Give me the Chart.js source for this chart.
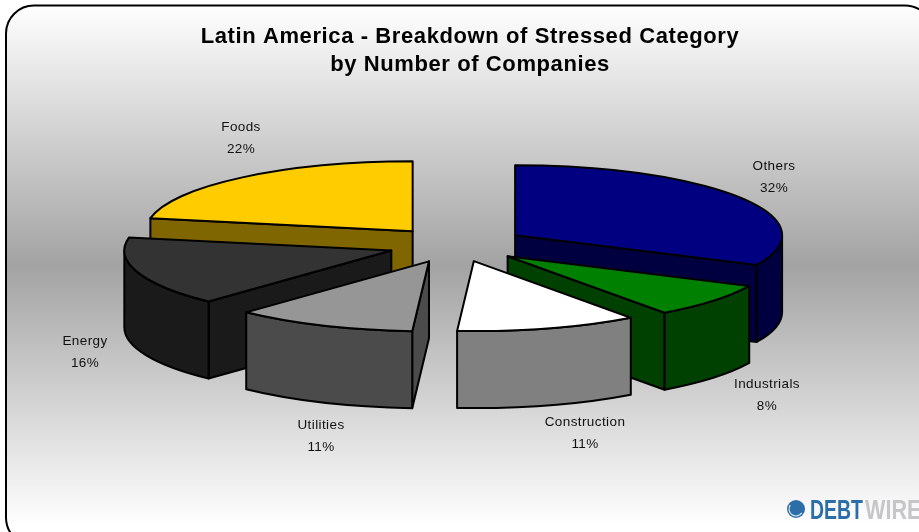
<!DOCTYPE html>
<html>
<head>
<meta charset="utf-8">
<style>html,body{margin:0;padding:0;background:#fff}canvas{display:block}</style>
<script src="https://cdn.jsdelivr.net/npm/chart.js@4"></script>
</head>
<body>
<canvas id="chart" width="919" height="532"></canvas>
<script>
// Sector data, clockwise from twelve o'clock
const categories = ['Others', 'Industrials', 'Construction', 'Utilities', 'Energy', 'Foods'];
const shares = [32, 8, 11, 11, 16, 22];
const topColors = ['#000080', '#008000', '#ffffff', '#969696', '#333333', '#ffcc00'];
const sideColors = ['#000040', '#004000', '#808080', '#4b4b4b', '#1a1a1a', '#806600'];
const titleLines = ['Latin America - Breakdown of Stressed Category', 'by Number of Companies'];

// Tilted-pie geometry
const pieCenter = { x: 456, y: 245 };
const pieRadius = 267;
const tilt = 0.262;
const depth = 77;
const explode = [70, 67, 64, 68, 68, 68];
const paintOrder = [5, 0, 4, 1, 3, 2];      // back to front
const labelCenters = [[774, 177.5], [767, 395.5], [585, 433.5], [321, 436.5], [85, 352.5], [241, 138]];

const LABEL_FONT = '13.5px "Liberation Sans", Arial, sans-serif';
const EDGE_WIDTH = 2;

function sliceApex(arc, i) {
  const mid = (arc.startAngle + arc.endAngle) / 2;
  return {
    x: pieCenter.x + Math.cos(mid) * explode[i],
    y: pieCenter.y + Math.sin(mid) * explode[i] * tilt
  };
}

function rimPoint(apex, angle) {
  return { x: apex.x + Math.cos(angle) * pieRadius, y: apex.y + Math.sin(angle) * pieRadius * tilt };
}

function paintPath(ctx, fill, build) {
  ctx.beginPath();
  build();
  ctx.closePath();
  ctx.fillStyle = fill;
  ctx.fill();
  ctx.strokeStyle = '#000';
  ctx.lineWidth = EDGE_WIDTH;
  ctx.lineJoin = 'round';
  ctx.stroke();
}

function cutFace(ctx, apex, angle, color) {
  const rim = rimPoint(apex, angle);
  paintPath(ctx, color, () => {
    ctx.moveTo(apex.x, apex.y);
    ctx.lineTo(rim.x, rim.y);
    ctx.lineTo(rim.x, rim.y + depth);
    ctx.lineTo(apex.x, apex.y + depth);
  });
}

const tiltedPie = {
  id: 'tiltedPie',
  beforeDraw(chart) {
    const { ctx, width, height } = chart;
    ctx.save();
    ctx.fillStyle = '#ffffff';
    ctx.fillRect(0, 0, width, height);
    const grad = ctx.createLinearGradient(0, 5, 0, 525);
    grad.addColorStop(0, '#ffffff');
    grad.addColorStop(0.5, '#a3a3a3');
    grad.addColorStop(1, '#ffffff');
    ctx.beginPath();
    ctx.roundRect(6, 5.5, width + 8, height + 8, 28);
    ctx.fillStyle = grad;
    ctx.fill();
    ctx.strokeStyle = '#000';
    ctx.lineWidth = 2;
    ctx.stroke();
    ctx.restore();
    ctx.letterSpacing = '0.6px';
  },
  beforeDatasetDraw(chart) {
    const { ctx } = chart;
    const arcs = chart.getDatasetMeta(0).data;
    ctx.letterSpacing = '0px';
    paintOrder.forEach(i => {
      const arc = arcs[i];
      const a0 = arc.startAngle, a1 = arc.endAngle;
      const apex = sliceApex(arc, i);
      const side = sideColors[i];

      // Cut faces that turn toward the viewer
      if (-Math.cos(a0) > 1e-6) cutFace(ctx, apex, a0, side);
      if (Math.cos(a1) > 1e-6) cutFace(ctx, apex, a1, side);

      // Curved outer wall on the near half of the rim
      const lo = Math.max(a0, 0), hi = Math.min(a1, Math.PI);
      if (lo < hi) {
        paintPath(ctx, side, () => {
          ctx.ellipse(apex.x, apex.y, pieRadius, pieRadius * tilt, 0, lo, hi);
          ctx.ellipse(apex.x, apex.y + depth, pieRadius, pieRadius * tilt, 0, hi, lo, true);
        });
      }

      // Top surface comes from the library's arc element, squashed into place
      ctx.save();
      ctx.translate(apex.x, apex.y);
      ctx.scale(1, tilt);
      ctx.translate(-arc.x, -arc.y);
      arc.draw(ctx);
      ctx.restore();

      ctx.beginPath();
      ctx.moveTo(apex.x, apex.y);
      ctx.ellipse(apex.x, apex.y, pieRadius, pieRadius * tilt, 0, a0, a1);
      ctx.closePath();
      ctx.strokeStyle = '#000';
      ctx.lineWidth = EDGE_WIDTH;
      ctx.lineJoin = 'round';
      ctx.stroke();
    });
    return false;
  },
  afterDatasetsDraw(chart) {
    const { ctx } = chart;
    ctx.save();
    // Category and share labels
    ctx.font = LABEL_FONT;
    ctx.letterSpacing = '0.4px';
    ctx.fillStyle = '#111111';
    ctx.textAlign = 'center';
    ctx.textBaseline = 'middle';
    categories.forEach((name, i) => {
      const [x, y] = labelCenters[i];
      ctx.fillText(name, x, y - 11);
      ctx.fillText(shares[i] + '%', x, y + 11);
    });
    ctx.restore();

    // Publisher mark in the lower right corner
    ctx.save();
    ctx.beginPath();
    ctx.rect(780, 490, 139, 29);
    ctx.clip();
    ctx.fillStyle = '#2b6ea8';
    ctx.beginPath();
    ctx.arc(796, 509, 9, 0, Math.PI * 2);
    ctx.fill();
    ctx.beginPath();
    ctx.arc(796, 509, 7, 0.6, Math.PI + 0.6);
    ctx.lineWidth = 1.2;
    ctx.strokeStyle = '#dfe8f0';
    ctx.stroke();
    ctx.letterSpacing = '0px';
    ctx.textAlign = 'left';
    ctx.textBaseline = 'alphabetic';
    ctx.font = 'bold 27px "Liberation Sans", sans-serif';
    ctx.fillStyle = '#2b6ea8';
    ctx.save();
    ctx.translate(810, 519);
    ctx.scale(0.72, 1);
    ctx.fillText('DEBT', 0, 0);
    ctx.restore();
    ctx.fillStyle = '#c6c6c8';
    ctx.translate(865, 519);
    ctx.scale(0.8, 1);
    ctx.fillText('WIRE', 0, 0);
    ctx.restore();
  }
};

new Chart(document.getElementById('chart'), {
  type: 'pie',
  data: {
    labels: categories,
    datasets: [{
      data: shares,
      backgroundColor: topColors,
      borderWidth: 0,
      radius: pieRadius
    }]
  },
  options: {
    responsive: false,
    animation: false,
    layout: { padding: { left: 21 } },
    events: [],
    plugins: {
      legend: { display: false },
      tooltip: { enabled: false },
      title: {
        display: true,
        text: titleLines,
        color: '#000000',
        font: { family: '"Liberation Sans", Arial, sans-serif', size: 22, weight: 'bold', lineHeight: 1.28 },
        padding: { top: 23, bottom: 10 }
      }
    }
  },
  plugins: [tiltedPie]
});
</script>
</body>
</html>
